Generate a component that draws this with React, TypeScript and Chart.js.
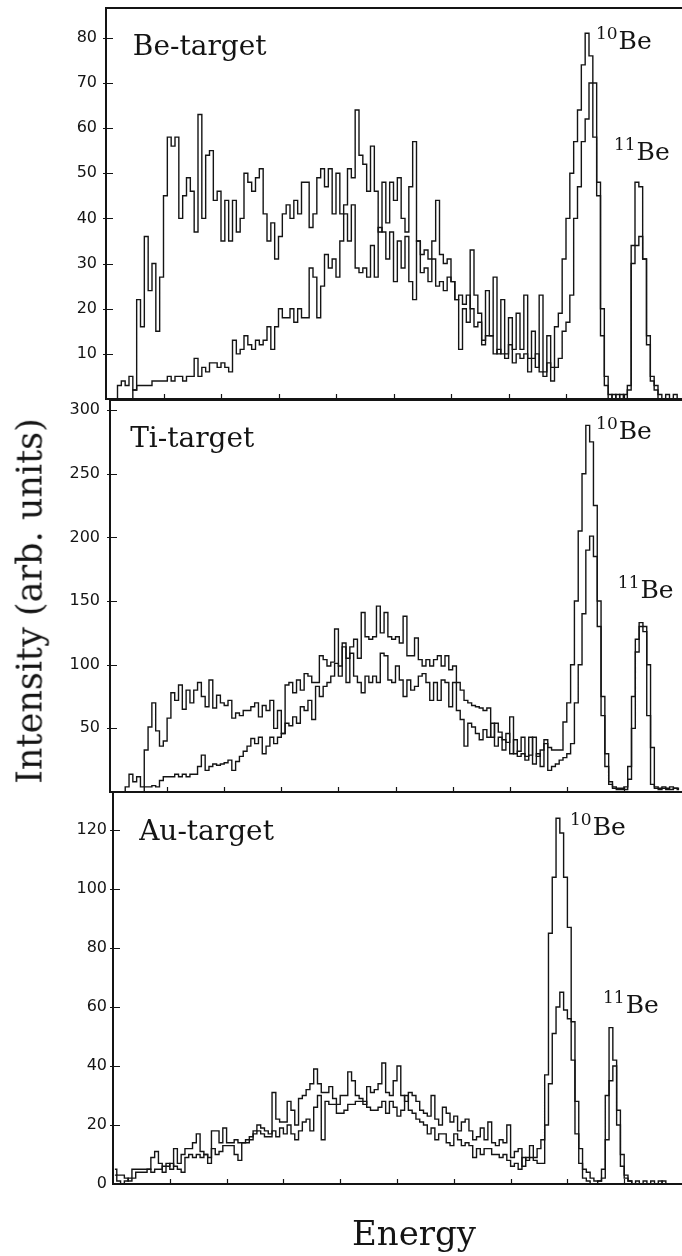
import React, { useEffect, useRef } from "react";
import { Chart, registerables } from "chart.js";

Chart.register(...registerables);

// ---------- data ----------
const channelCount = 150;
const energyTicks = [15, 30, 45, 60, 75, 90, 105, 120, 135];

const beTicks = [10, 20, 30, 40, 50, 60, 70, 80];
const tiTicks = [50, 100, 150, 200, 250, 300];
const auTicks = [0, 20, 40, 60, 80, 100, 120];

const beSeriesA = [
  0, 0, 0, 3, 4, 3, 5, 2, 22, 16,
  36, 24, 30, 15, 27, 45, 58, 56, 58, 40,
  45, 49, 46, 37, 63, 40, 54, 55, 44, 46,
  35, 44, 35, 44, 37, 40, 50, 48, 46, 49,
  51, 41, 35, 39, 31, 36, 41, 43, 40, 44,
  41, 48, 48, 38, 41, 49, 51, 47, 51, 41,
  50, 41, 43, 51, 49, 64, 54, 52, 46, 56,
  46, 37, 48, 39, 48, 44, 49, 40, 37, 47,
  57, 35, 32, 33, 31, 35, 44, 32, 30, 31,
  26, 22, 11, 20, 17, 33, 23, 19, 13, 24,
  14, 27, 10, 22, 10, 18, 11, 19, 11, 23,
  9, 15, 7, 23, 6, 14, 7, 16, 19, 31,
  40, 50, 57, 64, 74, 81, 76, 58, 45, 14,
  3, 0, 1, 0, 1, 0, 3, 34, 48, 47,
  31, 14, 5, 3, 1, 0, 1, 0, 1, 0,
];

const beSeriesB = [
  0, 0, 0, 0, 0, 0, 0, 2, 3, 3,
  3, 3, 4, 4, 4, 4, 5, 4, 5, 5,
  4, 5, 5, 9, 5, 7, 6, 8, 8, 7,
  8, 7, 6, 13, 10, 11, 14, 12, 11, 13,
  12, 13, 16, 11, 16, 20, 18, 18, 20, 17,
  20, 18, 18, 29, 27, 18, 25, 32, 29, 31,
  27, 35, 41, 35, 43, 29, 28, 29, 27, 34,
  27, 38, 37, 31, 37, 26, 35, 29, 36, 26,
  22, 35, 28, 29, 26, 31, 25, 26, 24, 27,
  26, 22, 23, 21, 23, 20, 16, 17, 12, 14,
  14, 10, 11, 10, 9, 12, 8, 10, 9, 10,
  6, 9, 10, 6, 5, 8, 4, 7, 9, 15,
  17, 23, 40, 47, 57, 62, 70, 70, 48, 20,
  5, 1, 0, 1, 0, 1, 2, 30, 34, 36,
  31, 12, 4, 2, 0, 0, 0, 0, 0, 0,
];

const tiSeriesC = [
  0, 0, 0, 0, 4, 14, 8, 12, 4, 33,
  51, 70, 48, 36, 40, 58, 78, 72, 84, 65,
  80, 70, 80, 86, 75, 67, 88, 66, 76, 70,
  68, 72, 58, 62, 60, 64, 64, 67, 70, 59,
  68, 64, 72, 50, 64, 46, 84, 86, 78, 88,
  80, 93, 91, 86, 86, 107, 104, 99, 102, 128,
  99, 117, 105, 114, 120, 105, 141, 122, 120, 122,
  146, 125, 141, 122, 120, 122, 117, 138, 107, 107,
  121, 104, 99, 104, 99, 104, 107, 99, 107, 96,
  99, 86, 80, 72, 70, 68, 67, 66, 64, 66,
  43, 54, 47, 41, 39, 59, 30, 32, 43, 28,
  29, 43, 28, 33, 38, 35, 33, 33, 33, 55,
  70, 100, 150, 205, 250, 288, 275, 225, 150, 60,
  20, 6, 4, 3, 3, 4, 10, 75, 120, 133,
  130, 60, 6, 3, 3, 4, 3, 4, 3, 3,
];

const tiSeriesD = [
  0, 0, 0, 0, 0, 0, 0, 0, 0, 4,
  4, 5, 4, 9, 12, 12, 12, 14, 12, 14,
  12, 14, 14, 20, 29, 17, 20, 22, 21, 22,
  23, 25, 17, 24, 28, 32, 36, 42, 38, 43,
  30, 36, 43, 38, 43, 46, 54, 52, 59, 54,
  67, 64, 72, 57, 83, 75, 83, 86, 91, 101,
  91, 114, 86, 109, 91, 86, 78, 91, 86, 91,
  86, 109, 107, 88, 86, 99, 88, 75, 88, 80,
  83, 91, 93, 86, 72, 86, 72, 88, 86, 67,
  86, 64, 57, 36, 54, 51, 46, 41, 49, 43,
  54, 36, 43, 33, 46, 30, 41, 28, 30, 25,
  43, 22, 30, 20, 41, 17, 20, 22, 25, 27,
  30, 38, 70, 100, 140, 190, 201, 185, 130, 75,
  30, 8, 3, 2, 2, 2, 20, 50, 110, 130,
  126, 100, 35, 4, 2, 3, 2, 2, 3, 2,
];

const auSeriesE = [
  5, 3, 3, 2, 1, 5, 5, 5, 5, 5,
  9, 11, 7, 4, 7, 5, 12, 7, 10, 12,
  12, 14, 17, 11, 10, 9, 18, 18, 14, 19,
  14, 14, 15, 14, 14, 15, 16, 18, 20, 19,
  18, 17, 31, 22, 21, 21, 28, 25, 20, 29,
  30, 32, 34, 39, 34, 31, 31, 33, 29, 27,
  30, 30, 38, 35, 30, 29, 27, 33, 31, 32,
  34, 41, 31, 30, 35, 40, 30, 28, 31, 30,
  28, 25, 24, 23, 30, 22, 20, 26, 24, 21,
  23, 18, 21, 22, 18, 15, 16, 19, 15, 21,
  14, 13, 15, 14, 20, 9, 11, 12, 6, 9,
  13, 9, 12, 15, 37, 85, 104, 124, 119, 104,
  87, 55, 17, 7, 2, 1, 0, 0, 1, 5,
  30, 53, 42, 25, 10, 3, 1, 0, 1, 0,
  0, 0, 1, 0, 1, 0, 0, 0, 0, 0,
];

const auSeriesF = [
  3, 1, 0, 1, 2, 2, 4, 4, 4, 5,
  4, 5, 5, 6, 6, 7, 6, 5, 4, 9,
  10, 9, 10, 9, 10, 7, 12, 10, 11, 13,
  13, 13, 10, 8, 14, 14, 15, 17, 18, 17,
  16, 16, 18, 16, 19, 17, 20, 17, 15, 18,
  21, 22, 18, 26, 30, 15, 28, 27, 27, 24,
  24, 25, 27, 27, 28, 28, 28, 26, 25, 25,
  26, 28, 24, 28, 26, 23, 25, 30, 25, 24,
  22, 21, 20, 17, 19, 15, 17, 17, 14, 13,
  17, 15, 13, 14, 13, 9, 12, 10, 12, 12,
  10, 10, 9, 10, 8, 6, 7, 5, 9, 8,
  9, 8, 7, 7, 20, 34, 51, 60, 65, 59,
  56, 42, 28, 12, 5, 4, 2, 1, 1, 2,
  15, 35, 40, 20, 6, 2, 1, 0, 0, 0,
  1, 0, 0, 0, 0, 1, 0, 0, 0, 0,
];

// ---------- layout / style ----------
type PanelLabel = { text: string; sup?: string; at: [number, number]; size: number };
type Panel = {
  key: string;
  top: number;
  height: number;
  padTop: number;
  padBottom: number;
  axisX: number;
  yMax: number;
  ticks: number[];
  tickPad: number;
  series: number[][];
  labels: PanelLabel[];
};

const panels: Panel[] = [
  {
    key: "be", top: 0, height: 400, padTop: 8, padBottom: 1, axisX: 106, yMax: 86.6,
    ticks: beTicks, tickPad: 9, series: [beSeriesA, beSeriesB],
    labels: [
      { text: "Be-target", at: [7.0, 76.3], size: 28 },
      { sup: "10", text: "Be", at: [127.8, 77.6], size: 25 },
      { sup: "11", text: "Be", at: [132.5, 53], size: 25 },
    ],
  },
  {
    key: "ti", top: 399, height: 394, padTop: 1, padBottom: 1, axisX: 110, yMax: 307.9,
    ticks: tiTicks, tickPad: 10, series: [tiSeriesC, tiSeriesD],
    labels: [
      { text: "Ti-target", at: [5.3, 271], size: 28 },
      { sup: "10", text: "Be", at: [127.7, 277.5], size: 25 },
      { sup: "11", text: "Be", at: [133.4, 152.5], size: 25 },
    ],
  },
  {
    key: "au", top: 792, height: 464, padTop: 0, padBottom: 72, axisX: 113, yMax: 132.9,
    ticks: auTicks, tickPad: 6, series: [auSeriesE, auSeriesF],
    labels: [
      { text: "Au-target", at: [6.9, 116.6], size: 28 },
      { sup: "10", text: "Be", at: [120.7, 118.3], size: 25 },
      { sup: "11", text: "Be", at: [129.4, 58], size: 25 },
    ],
  },
];

const INK = "#141414";
const SERIF = '"DejaVu Serif", "Liberation Serif", serif';
const SANS = '"DejaVu Sans", "Liberation Sans", sans-serif';

function makeFramePlugin(p: Panel) {
  return {
    id: "frame-" + p.key,
    afterDraw(chart: any) {
      const { ctx, chartArea: a, scales } = chart;
      const xs = scales.x;
      const ys = scales.y;
      ctx.save();
      ctx.strokeStyle = INK;
      ctx.lineWidth = 2;
      ctx.beginPath();
      ctx.moveTo(a.right + 1, a.top);
      ctx.lineTo(a.left, a.top);
      ctx.lineTo(a.left, a.bottom);
      ctx.lineTo(a.right + 1, a.bottom);
      ctx.stroke();

      ctx.lineWidth = 1.2;
      ctx.beginPath();
      for (const v of energyTicks) {
        const px = Math.round(xs.getPixelForValue(v)) + 0.5;
        ctx.moveTo(px, a.bottom);
        ctx.lineTo(px, a.bottom - 5);
      }
      for (const v of p.ticks) {
        if (v === 0) continue;
        const py = Math.round(ys.getPixelForValue(v)) + 0.5;
        ctx.moveTo(a.left - 3, py);
        ctx.lineTo(a.left + 7, py);
      }
      ctx.stroke();

      ctx.fillStyle = INK;
      ctx.textBaseline = "alphabetic";
      ctx.textAlign = "left";
      for (const lab of p.labels) {
        const px = xs.getPixelForValue(lab.at[0]);
        const py = ys.getPixelForValue(lab.at[1]);
        let x = px;
        if (lab.sup) {
          ctx.font = `${Math.round(lab.size * 0.66)}px ${SERIF}`;
          ctx.fillText(lab.sup, x, py - 10);
          x += ctx.measureText(lab.sup).width + 1;
        }
        ctx.font = `${lab.size}px ${SERIF}`;
        ctx.fillText(lab.text, x, py);
      }
      ctx.restore();
    },
  };
}

function buildConfig(p: Panel): any {
  return {
    type: "line",
    data: {
      datasets: p.series.map((vals, si) => ({
        label: p.key + si,
        data: vals.map((v, i) => ({ x: i + 0.5, y: v })),
        stepped: "middle",
        borderColor: INK,
        borderWidth: 1.4,
        pointRadius: 0,
        fill: false,
      })),
    },
    options: {
      animation: false,
      responsive: false,
      maintainAspectRatio: false,
      devicePixelRatio: 1,
      layout: { padding: { top: p.padTop, bottom: p.padBottom, left: 0, right: 1 } },
      plugins: { legend: { display: false }, tooltip: { enabled: false } },
      scales: {
        x: { type: "linear", min: 0, max: channelCount, display: false },
        y: {
          type: "linear",
          min: 0,
          max: p.yMax,
          afterFit: (s: any) => {
            s.width = p.axisX;
            s.paddingTop = 0;
            s.paddingBottom = 0;
          },
          afterBuildTicks: (s: any) => {
            s.ticks = p.ticks.map((v) => ({ value: v }));
          },
          grid: { display: false, drawTicks: false },
          border: { display: false },
          ticks: {
            autoSkip: false,
            maxRotation: 0,
            padding: p.tickPad,
            color: INK,
            font: { family: SANS, size: 16 },
          },
        },
      },
    },
    plugins: [makeFramePlugin(p)],
  };
}

export default function App() {
  const r0 = useRef<HTMLCanvasElement>(null);
  const r1 = useRef<HTMLCanvasElement>(null);
  const r2 = useRef<HTMLCanvasElement>(null);
  const refs = [r0, r1, r2];

  useEffect(() => {
    const charts = panels.map((p, i) => new Chart(refs[i].current as HTMLCanvasElement, buildConfig(p)));
    return () => charts.forEach((c) => c.destroy());
  }, []);

  return (
    <div
      style={{
        position: "absolute",
        left: 0,
        top: 0,
        width: 682,
        height: 1256,
        background: "#fff",
        overflow: "hidden",
      }}
    >
      {panels.map((p, i) => (
        <canvas
          key={p.key}
          ref={refs[i]}
          width={682}
          height={p.height}
          style={{ position: "absolute", left: 0, top: p.top, width: 682, height: p.height }}
        />
      ))}
      <div
        style={{
          position: "absolute",
          left: 30,
          top: 601,
          transform: "translate(-50%, -50%) rotate(-90deg)",
          font: `35px ${SERIF}`,
          lineHeight: "1",
          whiteSpace: "nowrap",
          color: INK,
        }}
      >
        Intensity (arb. units)
      </div>
      <div
        style={{
          position: "absolute",
          left: 352,
          top: 1216,
          font: `34px ${SERIF}`,
          lineHeight: "34px",
          whiteSpace: "nowrap",
          color: INK,
        }}
      >
        Energy
      </div>
    </div>
  );
}
